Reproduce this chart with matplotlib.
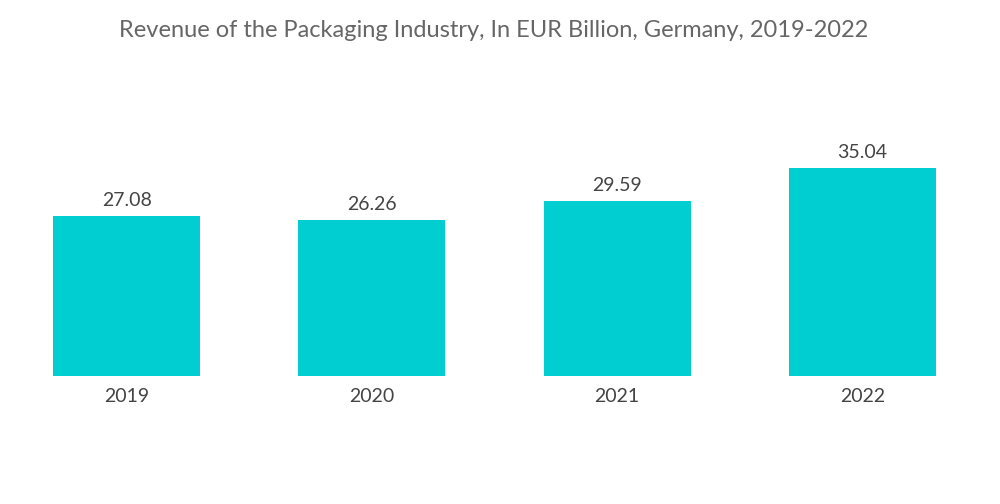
import matplotlib
matplotlib.use("Agg")
import matplotlib.pyplot as plt

years = ["2019", "2020", "2021", "2022"]
revenue = [27.08, 26.26, 29.59, 35.04]

BAR_COLOR = "#00CED1"
TEXT_COLOR = "#666666"

plt.rcParams["font.family"] = ["Lato", "DejaVu Sans"]

fig = plt.figure(figsize=(10, 5.04), dpi=100)
ax = fig.add_axes([0.004, 0.254, 0.981, 0.470])

x = range(len(years))
bars = ax.bar(x, revenue, width=0.6, color=BAR_COLOR)
for b, v in zip(bars, revenue):
    ax.text(b.get_x() + b.get_width() / 2, v + 1.2, f"{v:.2f}",
            ha="center", va="bottom", fontsize=14, color="#444444")

ax.set_xlim(-0.5, 3.5)
ax.set_ylim(0, 40)
ax.set_xticks(list(x))
ax.set_xticklabels(years, fontsize=14, color="#444444")
ax.tick_params(axis="x", length=0, pad=9)
ax.set_yticks([])
for s in ax.spines.values():
    s.set_visible(False)

fig.text(0.494, 0.94, "Revenue of the Packaging Industry, In EUR Billion, Germany, 2019-2022",
         ha="center", va="center", fontsize=17, color=TEXT_COLOR)

fig.savefig("out.png", dpi=100)
